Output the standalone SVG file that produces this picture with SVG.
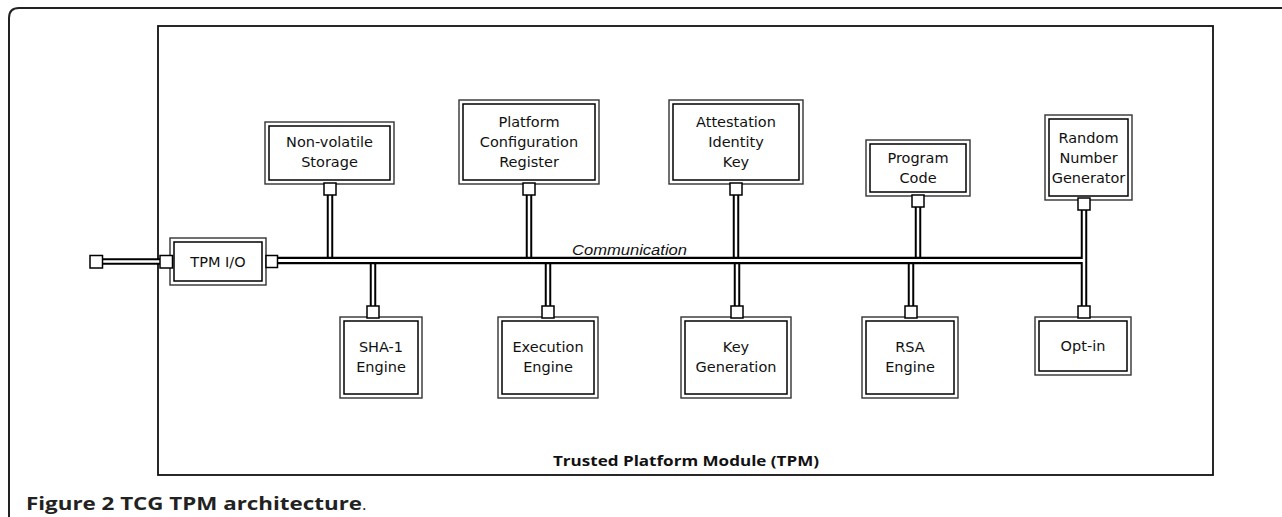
<svg xmlns="http://www.w3.org/2000/svg" width="1282" height="517" viewBox="0 0 1282 517">
<style>
.ob{fill:#fff;stroke:#333;stroke-width:1.4}
.ib{fill:none;stroke:#000;stroke-width:1.5}
.port{fill:#fff;stroke:#000;stroke-width:1.5}
.lbl{font-family:"DejaVu Sans",Verdana,sans-serif;font-size:14.5px;fill:#111;text-anchor:middle}
.blk{stroke:#000;fill:none}
.wht{stroke:#fff;fill:none}
</style>
<rect width="1282" height="517" fill="#fff"/>
<path d="M9,520 V18 Q9,8 19,8 H1290" fill="none" stroke="#222" stroke-width="2"/>
<rect x="158" y="26" width="1055" height="449" fill="none" stroke="#111" stroke-width="1.8"/>
<text x="686" y="466" font-family="'Open Sans','Liberation Sans',Arial,sans-serif" font-size="14" font-weight="bold" text-anchor="middle" textLength="266" lengthAdjust="spacingAndGlyphs" fill="#111">Trusted Platform Module (TPM)</text>
<text x="26" y="510" font-family="'Open Sans','Liberation Sans',sans-serif" font-size="17" fill="#222"><tspan font-weight="bold" textLength="336" lengthAdjust="spacingAndGlyphs">Figure 2 TCG TPM architecture</tspan>.</text>

<g id="connectors">
  <g class="blk" stroke-width="6.5">
    <line x1="103" y1="261.5" x2="161" y2="261.5"/>
    <line x1="330" y1="195" x2="330" y2="258"/>
    <line x1="529" y1="195" x2="529" y2="258"/>
    <line x1="736" y1="195" x2="736" y2="258"/>
    <line x1="918" y1="207" x2="918" y2="258"/>
    <line x1="373" y1="263" x2="373" y2="306"/>
    <line x1="548" y1="263" x2="548" y2="306"/>
    <line x1="737" y1="263" x2="737" y2="306"/>
    <line x1="911" y1="263" x2="911" y2="306"/>
    <line x1="1084" y1="210" x2="1084" y2="307"/>
  </g>
  <g class="wht" stroke-width="2.5">
    <line x1="103" y1="261.5" x2="161" y2="261.5"/>
    <line x1="330" y1="195" x2="330" y2="258"/>
    <line x1="529" y1="195" x2="529" y2="258"/>
    <line x1="736" y1="195" x2="736" y2="258"/>
    <line x1="918" y1="207" x2="918" y2="258"/>
    <line x1="373" y1="263" x2="373" y2="306"/>
    <line x1="548" y1="263" x2="548" y2="306"/>
    <line x1="737" y1="263" x2="737" y2="306"/>
    <line x1="911" y1="263" x2="911" y2="306"/>
  </g>
  <line class="blk" x1="278" y1="260.5" x2="1084" y2="260.5" stroke-width="7.5"/>
  <line class="wht" x1="1084" y1="209" x2="1084" y2="308" stroke-width="2.5"/>
  <line class="wht" x1="276" y1="260.5" x2="1084" y2="260.5" stroke-width="3"/>
  <text x="572" y="255" font-family="'Liberation Sans',Arial,sans-serif" font-size="15.5" font-style="italic" fill="#111" textLength="115" lengthAdjust="spacingAndGlyphs">Communication</text>
  <rect class="port" x="90" y="255.5" width="12.5" height="12.5"/>
</g>

<g id="tpmio">
  <rect class="ob" x="170" y="238" width="96" height="47"/>
  <rect class="ib" x="174" y="242" width="88" height="39"/>
  <text class="lbl" x="218" y="267">TPM I/O</text>
  <rect class="port" x="160" y="255.5" width="12.5" height="12.5"/>
  <rect class="port" x="266" y="255.5" width="11.5" height="12" stroke-width="2.5"/>
</g>

<g id="nvstorage">
  <rect class="ob" x="265" y="122" width="129" height="62"/>
  <rect class="ib" x="269" y="126" width="121" height="54"/>
  <text class="lbl" x="329.5" y="147">Non-volatile</text>
  <text class="lbl" x="329.5" y="167">Storage</text>
  <rect class="port" x="324" y="183" width="12" height="12"/>
</g>

<g id="pcr">
  <rect class="ob" x="459" y="100" width="140" height="84"/>
  <rect class="ib" x="463" y="104" width="132" height="76"/>
  <text class="lbl" x="529" y="127">Platform</text>
  <text class="lbl" x="529" y="147">Configuration</text>
  <text class="lbl" x="529" y="167">Register</text>
  <rect class="port" x="523" y="183" width="12" height="12"/>
</g>

<g id="aik">
  <rect class="ob" x="669" y="100" width="134" height="84"/>
  <rect class="ib" x="673" y="104" width="126" height="76"/>
  <text class="lbl" x="736" y="127">Attestation</text>
  <text class="lbl" x="736" y="147">Identity</text>
  <text class="lbl" x="736" y="167">Key</text>
  <rect class="port" x="730" y="183" width="12" height="12"/>
</g>

<g id="programcode">
  <rect class="ob" x="866" y="140" width="104" height="56"/>
  <rect class="ib" x="870" y="144" width="96" height="48"/>
  <text class="lbl" x="918" y="163">Program</text>
  <text class="lbl" x="918" y="183">Code</text>
  <rect class="port" x="912" y="195" width="12" height="12"/>
</g>

<g id="rng">
  <rect class="ob" x="1045" y="115" width="87" height="85"/>
  <rect class="ib" x="1049" y="119" width="79" height="77"/>
  <text class="lbl" x="1088.5" y="143">Random</text>
  <text class="lbl" x="1088.5" y="163">Number</text>
  <text class="lbl" x="1088.5" y="183">Generator</text>
  <rect class="port" x="1078" y="198" width="12" height="12"/>
</g>

<g id="sha1">
  <rect class="ob" x="340" y="317" width="82" height="81"/>
  <rect class="ib" x="344" y="321" width="74" height="73"/>
  <text class="lbl" x="381" y="352">SHA-1</text>
  <text class="lbl" x="381" y="372">Engine</text>
  <rect class="port" x="367" y="306" width="12" height="12"/>
</g>

<g id="execution">
  <rect class="ob" x="498" y="317" width="100" height="81"/>
  <rect class="ib" x="502" y="321" width="92" height="73"/>
  <text class="lbl" x="548" y="352">Execution</text>
  <text class="lbl" x="548" y="372">Engine</text>
  <rect class="port" x="542" y="306" width="12" height="12"/>
</g>

<g id="keygen">
  <rect class="ob" x="681" y="317" width="110" height="81"/>
  <rect class="ib" x="685" y="321" width="102" height="73"/>
  <text class="lbl" x="736" y="352">Key</text>
  <text class="lbl" x="736" y="372">Generation</text>
  <rect class="port" x="731" y="306" width="12" height="12"/>
</g>

<g id="rsa">
  <rect class="ob" x="862" y="317" width="96" height="81"/>
  <rect class="ib" x="866" y="321" width="88" height="73"/>
  <text class="lbl" x="910" y="352">RSA</text>
  <text class="lbl" x="910" y="372">Engine</text>
  <rect class="port" x="905" y="306" width="12" height="12"/>
</g>

<g id="optin">
  <rect class="ob" x="1035" y="317" width="96" height="58"/>
  <rect class="ib" x="1039" y="321" width="88" height="50"/>
  <text class="lbl" x="1083" y="351">Opt-in</text>
  <rect class="port" x="1078" y="306" width="12" height="12"/>
</g>
</svg>
